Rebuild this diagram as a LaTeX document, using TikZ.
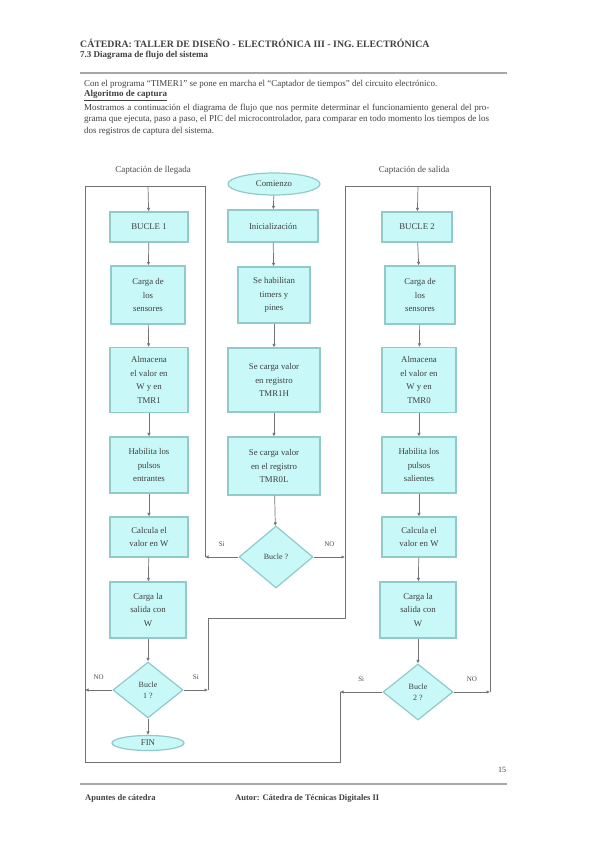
\documentclass[tikz,border=0pt]{standalone}
\usepackage{fontspec}
\setmainfont{Liberation Serif}
\usetikzlibrary{shapes.geometric,arrows.meta}
\definecolor{celeste}{HTML}{C8F8F8}
\definecolor{bordecel}{HTML}{90CACA}
\tikzset{
  caja/.style={draw=bordecel, fill=celeste, line width=1.2pt, align=center,
    inner sep=1pt, text=black!75, font=\fontsize{8.8}{13.5}\selectfont},
  rombo/.style={caja, diamond, inner sep=0pt, font=\fontsize{8}{11}\selectfont},
  terminal/.style={caja, ellipse, inner sep=0pt},
  linea/.style={draw=black!55, line width=0.7pt},
  flecha/.style={linea, -{Latex[length=3.5pt,width=3.5pt]}},
  rotulo/.style={font=\fontsize{7}{8}\selectfont, text=black!70},
  texto/.style={anchor=west, inner sep=0pt, text=black!75, font=\fontsize{9}{11.7}\selectfont}
}
\begin{document}
\begin{tikzpicture}[x=1pt, y=-1pt]
    \useasboundingbox[fill=white] (0,0) rectangle (595,842);
    % Encabezado de la hoja
    \node [texto, font=\bfseries\fontsize{9.8}{11}\selectfont] (enc1) at (80,43) {CÁTEDRA: TALLER DE DISEÑO - ELECTRÓNICA III - ING. ELECTRÓNICA};
    \node [texto, font=\bfseries\fontsize{9}{11}\selectfont] (enc2) at (80,55) {7.3 Diagrama de flujo del sistema};
    \draw [black!35, line width=1.2pt] (80,73) -- (507,73);
    \node [texto] (par1) at (84,84) {Con el programa ``TIMER1'' se pone en marcha el ``Captador de tiempos'' del circuito electrónico.};
    \node [texto, font=\bfseries\fontsize{9}{11.7}\selectfont] (par2) at (84,95.5) {\underline{Algoritmo de captura}};
    \node [texto, anchor=north west, text width=405pt, align=justify] (par3) at (84,103.5) {Mostramos a continuación el diagrama de flujo que nos permite determinar el funcionamiento general del programa que ejecuta, paso a paso, el PIC del microcontrolador, para comparar en todo momento los tiempos de los dos registros de captura del sistema.};
    % Titulos de columnas
    \node [rotulo, font=\fontsize{9}{10}\selectfont] (titizq) at (153,170) {Captación de llegada};
    \node [rotulo, font=\fontsize{9}{10}\selectfont] (titder) at (414,170) {Captación de salida};
    % Columna izquierda
    \node [caja, minimum width=78pt, minimum height=30pt] (l1) at (149,227) {BUCLE 1};
    \node [caja, minimum width=74pt, minimum height=58pt] (l2) at (148,295) {Carga de\\ los\\ sensores};
    \node [caja, minimum width=78pt, minimum height=65pt] (l3) at (149,380) {Almacena\\ el valor en\\ W y en\\ TMR1};
    \node [caja, minimum width=78pt, minimum height=56pt] (l4) at (149,465) {Habilita los\\ pulsos\\ entrantes};
    \node [caja, minimum width=78pt, minimum height=40pt] (l5) at (149,537) {Calcula el\\ valor en W};
    \node [caja, minimum width=76pt, minimum height=56pt] (l6) at (148,610) {Carga la\\ salida con\\ W};
    \node [rombo, minimum width=70pt, minimum height=56pt] (ld) at (148,690) {Bucle\\ 1 ?};
    \node [terminal, minimum width=72pt, minimum height=15pt] (fin) at (148,743) {FIN};
    % Columna central
    \node [terminal, minimum width=92pt, minimum height=22pt] (c0) at (274,184) {Comienzo};
    \node [caja, minimum width=90pt, minimum height=32pt] (c1) at (273,226) {Inicialización};
    \node [caja, minimum width=72pt, minimum height=56pt] (c2) at (274,295) {Se habilitan\\ timers y\\ pines};
    \node [caja, minimum width=92pt, minimum height=64pt] (c3) at (274,380) {Se carga valor\\ en registro\\ TMR1H};
    \node [caja, minimum width=92pt, minimum height=58pt] (c4) at (274,466) {Se carga valor\\ en el registro\\ TMR0L};
    \node [rombo, minimum width=74pt, minimum height=62pt] (cd) at (276,557) {Bucle ?};
    % Columna derecha
    \node [caja, minimum width=70pt, minimum height=30pt] (r1) at (417,227) {BUCLE 2};
    \node [caja, minimum width=70pt, minimum height=58pt] (r2) at (420,295) {Carga de\\ los\\ sensores};
    \node [caja, minimum width=74pt, minimum height=65pt] (r3) at (419,380) {Almacena\\ el valor en\\ W y en\\ TMR0};
    \node [caja, minimum width=74pt, minimum height=56pt] (r4) at (419,465) {Habilita los\\ pulsos\\ salientes};
    \node [caja, minimum width=74pt, minimum height=40pt] (r5) at (419,537) {Calcula el\\ valor en W};
    \node [caja, minimum width=76pt, minimum height=56pt] (r6) at (418,610) {Carga la\\ salida con\\ W};
    \node [rombo, minimum width=70pt, minimum height=56pt] (rd) at (418,692) {Bucle\\ 2 ?};
    % Puntos de los lazos
    \coordinate (entizq) at (148,186);
    \coordinate (entder) at (418,186);
    \coordinate (ldno) at (85,690);
    \coordinate (ldsi) at (208,690);
    \coordinate (cdsi) at (205,557);
    \coordinate (cdno) at (345,557);
    \coordinate (rdsi) at (340,692);
    \coordinate (rdno) at (490,692);
    % Flechas verticales
    \foreach \a/\b in {l1/l2, l2/l3, l3/l4, l4/l5, l5/l6, l6/ld, ld/fin,
                       c0/c1, c1/c2, c2/c3, c3/c4, c4/cd,
                       r1/r2, r2/r3, r3/r4, r4/r5, r5/r6, r6/rd}
        \draw [flecha] (\a) -- (\b);
    % Lazos
    \draw [linea] (85,762) -- (85,186) -- (205,186) -- (cdsi);
    \draw [flecha] (entizq) -- (l1);
    \draw [linea] (ldsi) -- (208,618) -- (345,618) -- (345,186) -- (490,186) -- (rdno);
    \draw [flecha] (entder) -- (r1);
    \draw [linea] (rdsi) -- (340,762) -- (85,762);
    \draw [flecha] (ld.west) -- node [rotulo, above=7pt] {NO} (ldno);
    \draw [flecha] (ld.east) -- node [rotulo, above=7pt] {Si} (ldsi);
    \draw [flecha] (cd.west) -- node [rotulo, above=7pt] {Si} (cdsi);
    \draw [flecha] (cd.east) -- node [rotulo, above=7pt] {NO} (cdno);
    \draw [flecha] (rd.west) -- node [rotulo, above=7pt] {Si} (rdsi);
    \draw [flecha] (rd.east) -- node [rotulo, above=7pt] {NO} (rdno);
    % Pie de pagina
    \node [texto, font=\fontsize{8}{9}\selectfont] (pag) at (498,770) {15};
    \draw [black!35, line width=1.2pt] (80,784) -- (507,784);
    \node [texto, font=\bfseries\fontsize{8.5}{9}\selectfont] (pie1) at (85,798) {Apuntes de cátedra};
    \node [texto, font=\bfseries\fontsize{8.5}{9}\selectfont] (pie2) at (235,798) {Autor: Cátedra de Técnicas Digitales II};
\end{tikzpicture}
\end{document}
